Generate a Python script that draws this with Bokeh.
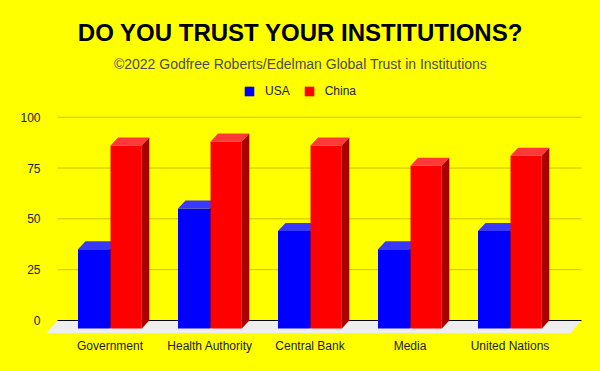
from bokeh.plotting import figure
from bokeh.models import FixedTicker, Legend, LegendItem, Label
from bokeh.embed import file_html
from bokeh.resources import INLINE

# ---- data ----
categories = ["Government", "Health Authority", "Central Bank", "Media", "United Nations"]
usa = [39, 59, 48, 39, 48]
china = [90, 92, 90, 80, 85]
y_ticks = [0, 25, 50, 75, 100]
series_names = ["USA", "China"]

title_text = "DO YOU TRUST YOUR INSTITUTIONS?"
subtitle_text = "\u00a92022 Godfree Roberts/Edelman Global Trust in Institutions"

# ---- geometry / style ----
PX_X = 100.0      # px per category
PX_Y = 2.033      # px per value unit
W, H = 600, 371
LEFT, BOTTOM = 46, 38
frame_w, frame_h = W - LEFT, H - BOTTOM
X0 = -0.635
Y0 = -6.39

BAR_DX = 7.5 / PX_X      # 3-D depth of bars
BAR_DY = 8.0 / PX_Y
FLOOR_DX = 11.0 / PX_X
FLOOR_DY = 12.5 / PX_Y

FONT = "Liberation Sans"
BG = "#ffff00"

p = figure(width=W, height=H,
           x_range=(X0, X0 + frame_w / PX_X),
           y_range=(Y0, Y0 + frame_h / PX_Y),
           output_backend="svg", toolbar_location=None,
           min_border_left=LEFT, min_border_bottom=BOTTOM,
           min_border_top=0, min_border_right=0,
           background_fill_color=BG, border_fill_color=BG,
           outline_line_color=None)
p.grid.visible = False

n = len(categories)
back_left = -0.525
back_right = (n - 1) + 0.715

# floor
p.patch(x=[back_left, back_right, back_right - FLOOR_DX, back_left - FLOOR_DX],
        y=[0, 0, -FLOOR_DY, -FLOOR_DY],
        fill_color="#eeeeee", line_color=None)

# grid lines on back wall
grid_vals = [t for t in y_ticks if t != 0]
p.segment(x0=[back_left] * len(grid_vals), x1=[back_right] * len(grid_vals),
          y0=grid_vals, y1=grid_vals, line_color="#c8c400", line_width=1)
p.segment(x0=[back_left], x1=[back_right], y0=[0], y1=[0],
          line_color="#000000", line_width=1)

def bars3d(values, offset_l, offset_r, front, top, side):
    idx = list(range(len(values)))
    lefts = [i + offset_l for i in idx]
    rights = [i + offset_r for i in idx]
    bottoms = [-BAR_DY] * len(values)
    tops = [v - BAR_DY for v in values]
    r = p.quad(left=lefts, right=rights, bottom=bottoms, top=tops,
               fill_color=front, line_color=None)
    top_xs = [[l, rr, rr + BAR_DX, l + BAR_DX] for l, rr in zip(lefts, rights)]
    top_ys = [[t, t, t + BAR_DY, t + BAR_DY] for t in tops]
    p.patches(xs=top_xs, ys=top_ys, fill_color=top, line_color=None)
    side_xs = [[rr, rr, rr + BAR_DX, rr + BAR_DX] for rr in rights]
    side_ys = [[-BAR_DY, t, t + BAR_DY, 0] for t in tops]
    p.patches(xs=side_xs, ys=side_ys, fill_color=side, line_color=None)
    return r

r_usa = bars3d(usa, -0.32, 0.0, "#0000ff", "#3838ff", "#0000a8")
r_china = bars3d(china, 0.005, 0.318, "#ff0000", "#ff3838", "#a80000")

# axes
p.xaxis.ticker = FixedTicker(ticks=list(range(n)))
p.xaxis.major_label_overrides = {i: c for i, c in enumerate(categories)}
p.yaxis.ticker = FixedTicker(ticks=y_ticks)
for ax in (p.xaxis, p.yaxis):
    ax.axis_line_color = None
    ax.major_tick_line_color = None
    ax.minor_tick_line_color = None
    ax.major_tick_out = 0
    ax.major_tick_in = 0
    ax.major_label_text_font = FONT
    ax.major_label_text_font_size = "12px"
    ax.major_label_text_color = "#222222"
p.yaxis.major_label_standoff = 6
p.xaxis.major_label_standoff = 5

# titles
p.add_layout(Label(x=(300 - 109.5) / PX_X, y=(320 - 32) / PX_Y, text=title_text,
                   text_align="center", text_baseline="middle",
                   text_font=FONT, text_font_style="bold", text_font_size="24px",
                   text_color="#000000"))
p.add_layout(Label(x=(300 - 109.5) / PX_X, y=(320 - 63.5) / PX_Y, text=subtitle_text,
                   text_align="center", text_baseline="middle",
                   text_font=FONT, text_font_size="14px", text_color="#4d4d4d"))

legend = Legend(items=[LegendItem(label=series_names[0], renderers=[r_usa]),
                       LegendItem(label=series_names[1], renderers=[r_china])],
                orientation="horizontal", location=(197, 235),
                glyph_width=12, glyph_height=12, label_standoff=10, spacing=13,
                padding=0, margin=0, border_line_color=None,
                background_fill_alpha=0, label_text_font=FONT,
                label_text_font_size="12px", label_text_color="#222222",
                label_height=12)
p.add_layout(legend)

html = file_html(p, INLINE)
html = html.replace("<head>", "<head><style>html, body { background: #ffff00; }</style>", 1)
open("out.html", "w").write(html)
